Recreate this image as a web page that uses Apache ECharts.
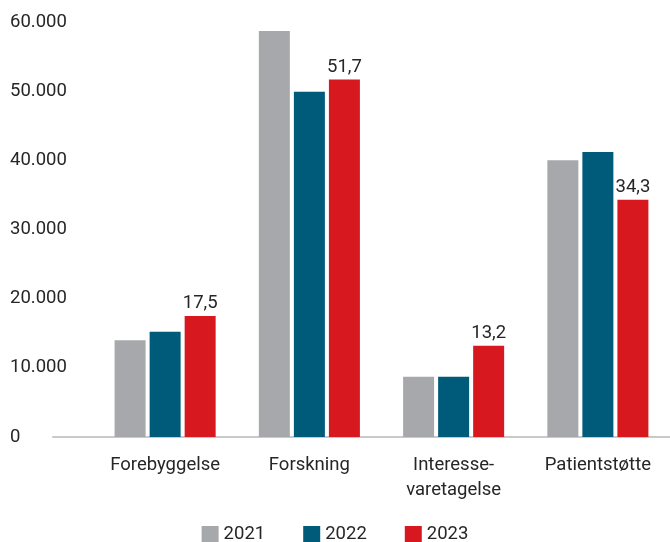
<!DOCTYPE html>
<html>
<head>
<meta charset="utf-8">
<script src="https://cdn.jsdelivr.net/npm/echarts@6/dist/echarts.min.js"></script>
<style>
html,body{margin:0;padding:0;background:#fff;}
#chart{width:670px;height:542px;}
</style>
</head>
<body>
<div id="chart"></div>
<script>
const categories = ['Forebyggelse', 'Forskning', 'Interesse-\nvaretagelse', 'Patientstøtte'];
const years = ['2021', '2022', '2023'];
const v2021 = [14000, 58700, 8700, 40000];
const v2022 = [15200, 49900, 8700, 41200];
const v2023 = [17500, 51700, 13200, 34300];
const colors = ['#a7a8ac', '#005a7a', '#d7191f'];

const textColor = '#262626';
const font = 'Roboto';

function thousands(v) {
  return String(v).replace(/\B(?=(\d{3})+(?!\d))/g, '.');
}

const chart = echarts.init(document.getElementById('chart'), null, {renderer: 'canvas'});

function bar(name, data, idx, withLabel) {
  return {
    name: name,
    type: 'bar',
    xAxisIndex: 1,
    yAxisIndex: 1,
    data: data,
    barWidth: 31,
    barGap: '13%',
    itemStyle: {color: colors[idx]},
    label: withLabel ? {
      show: true,
      position: 'top',
      distance: 3,
      color: textColor,
      fontFamily: font,
      fontSize: 18.5,
      formatter: p => (p.value / 1000).toFixed(1).replace('.', ',')
    } : {show: false}
  };
}

chart.setOption({
  animation: false,
  textStyle: {fontFamily: font},
  grid: [
    {left: 53, right: 0, top: 22, bottom: 105},
    {left: 93, width: 580, top: 22, bottom: 105}
  ],
  legend: {
    data: years,
    left: 'center',
    top: 525,
    padding: 0,
    icon: 'rect',
    itemWidth: 17,
    itemHeight: 17,
    itemGap: 38,
    textStyle: {color: textColor, fontSize: 18.5, fontFamily: font}
  },
  xAxis: [
    {
      gridIndex: 0,
      type: 'category',
      data: categories,
      axisLine: {show: true, lineStyle: {color: '#c9c9c9', width: 2}},
      axisTick: {show: false},
      axisLabel: {show: false}
    },
    {
      gridIndex: 1,
      type: 'category',
      data: categories,
      axisLine: {show: false},
      axisTick: {show: false},
      axisLabel: {
        show: true,
        margin: 16,
        color: textColor,
        fontSize: 18.5,
        lineHeight: 25,
        fontFamily: font
      }
    }
  ],
  yAxis: [
    {
      gridIndex: 0,
      type: 'value',
      min: 0,
      max: 60000,
      interval: 10000,
      axisLine: {show: false},
      axisTick: {show: false},
      splitLine: {show: false},
      axisLabel: {
        align: 'left',
        margin: 43,
        color: textColor,
        fontSize: 18.5,
        fontFamily: font,
        formatter: v => thousands(v)
      }
    },
    {
      gridIndex: 1,
      type: 'value',
      min: 0,
      max: 60000,
      interval: 10000,
      show: false,
      splitLine: {show: false}
    }
  ],
  series: [
    bar('2021', v2021, 0, false),
    bar('2022', v2022, 1, false),
    bar('2023', v2023, 2, true)
  ]
});
</script>
</body>
</html>
